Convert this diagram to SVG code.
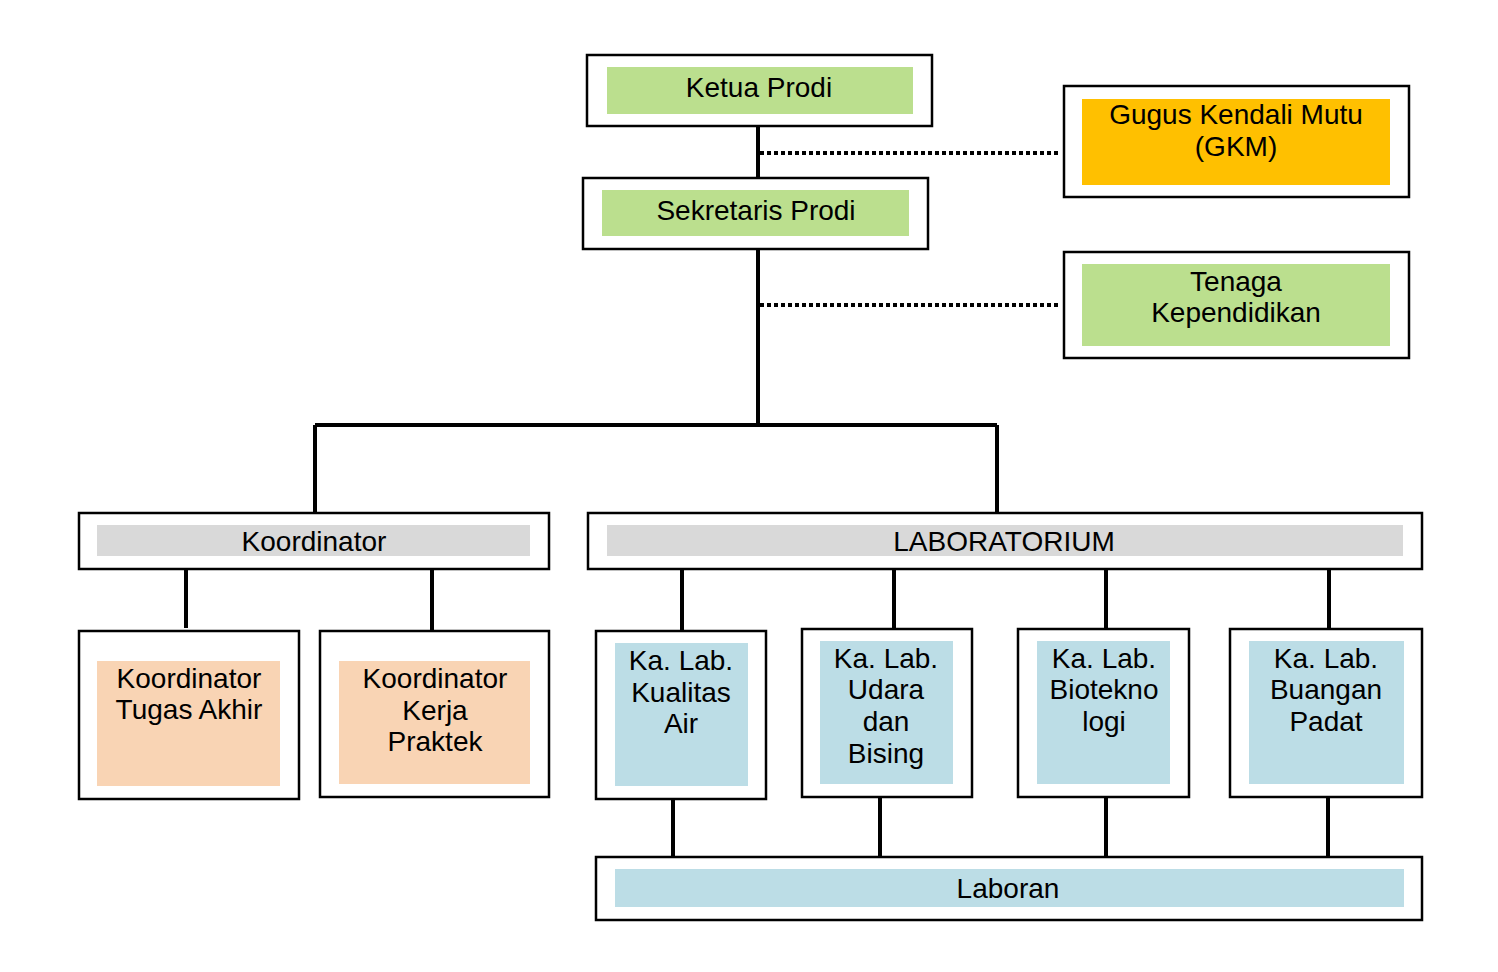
<svg xmlns="http://www.w3.org/2000/svg" width="1498" height="972" viewBox="0 0 1498 972">
<style>
.o{fill:#fff;stroke:#000;stroke-width:2.5}
.g{fill:#BBDF8E}.y{fill:#FFC000}.gr{fill:#D9D9D9}.p{fill:#F9D4B4}.b{fill:#BCDDE6}
text{font-family:"Liberation Sans",Arial,sans-serif;font-size:28px;text-anchor:middle;fill:#000}
.c{stroke:#000;stroke-width:4;fill:none}
.d{stroke:#000;stroke-width:4;fill:none;stroke-dasharray:4 3}
</style>
<rect width="1498" height="972" fill="#fff"/>
<g id="connectors">
<path class="c" d="M758 126V425M315 425H997M315 425V513M997 425V513"/>
<path class="d" d="M760 153H1060M760 305H1060"/>
<path class="c" d="M186 569V628M432 569V631M682 569V631M894 569V629M1106 569V629M1329 569V629"/>
<path class="c" d="M673 799V857M880 797V857M1106 797V857M1328 797V857"/>
</g>
<g id="ketua"><rect class="o" x="587" y="55" width="345" height="71"/><rect class="g" x="607" y="67" width="306" height="47"/><text x="759" y="97">Ketua Prodi</text></g>
<g id="sekretaris"><rect class="o" x="583" y="178" width="345" height="71"/><rect class="g" x="602" y="190" width="307" height="46"/><text x="756" y="220">Sekretaris Prodi</text></g>
<g id="gkm"><rect class="o" x="1064" y="86" width="345" height="111"/><rect class="y" x="1082" y="99" width="308" height="86"/><text x="1236" y="124">Gugus Kendali Mutu</text><text x="1236" y="156">(GKM)</text></g>
<g id="tenaga"><rect class="o" x="1064" y="252" width="345" height="106"/><rect class="g" x="1082" y="264" width="308" height="82"/><text x="1236" y="291">Tenaga</text><text x="1236" y="322">Kependidikan</text></g>
<g id="koordinator"><rect class="o" x="79" y="513" width="470" height="56"/><rect class="gr" x="97" y="525" width="433" height="31"/><text x="314" y="551">Koordinator</text></g>
<g id="lab"><rect class="o" x="588" y="513" width="834" height="56"/><rect class="gr" x="607" y="525" width="796" height="31"/><text x="1004" y="551">LABORATORIUM</text></g>
<g id="kta"><rect class="o" x="79" y="631" width="220" height="168"/><rect class="p" x="97" y="661" width="183" height="125"/><text x="189" y="688">Koordinator</text><text x="189" y="719">Tugas Akhir</text></g>
<g id="kkp"><rect class="o" x="320" y="631" width="229" height="166"/><rect class="p" x="339" y="661" width="191" height="123"/><text x="435" y="688">Koordinator</text><text x="435" y="720">Kerja</text><text x="435" y="751">Praktek</text></g>
<g id="air"><rect class="o" x="596" y="631" width="170" height="168"/><rect class="b" x="615" y="643" width="133" height="143"/><text x="681" y="670">Ka. Lab.</text><text x="681" y="702">Kualitas</text><text x="681" y="733">Air</text></g>
<g id="udara"><rect class="o" x="802" y="629" width="170" height="168"/><rect class="b" x="820" y="641" width="133" height="143"/><text x="886" y="668">Ka. Lab.</text><text x="886" y="699">Udara</text><text x="886" y="731">dan</text><text x="886" y="763">Bising</text></g>
<g id="biotek"><rect class="o" x="1018" y="629" width="171" height="168"/><rect class="b" x="1037" y="641" width="133" height="143"/><text x="1104" y="668">Ka. Lab.</text><text x="1104" y="699">Biotekno</text><text x="1104" y="731">logi</text></g>
<g id="buangan"><rect class="o" x="1230" y="629" width="192" height="168"/><rect class="b" x="1249" y="641" width="155" height="143"/><text x="1326" y="668">Ka. Lab.</text><text x="1326" y="699">Buangan</text><text x="1326" y="731">Padat</text></g>
<g id="laboran"><rect class="o" x="596" y="857" width="826" height="63"/><rect class="b" x="615" y="869" width="789" height="38"/><text x="1008" y="898">Laboran</text></g>
</svg>
